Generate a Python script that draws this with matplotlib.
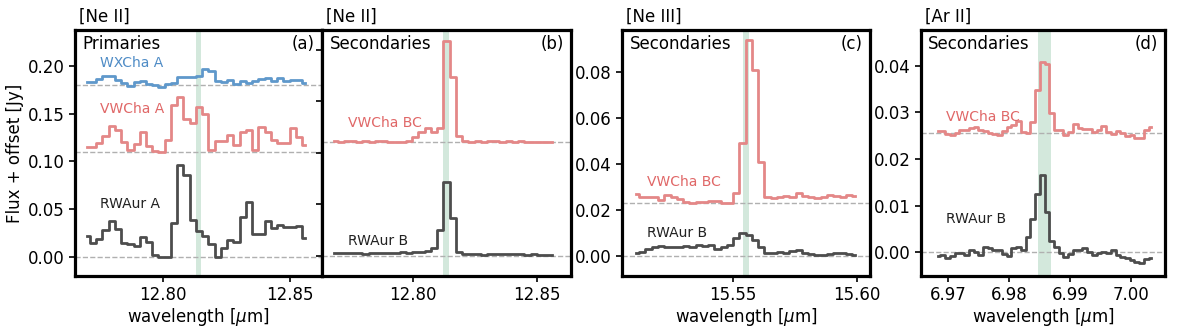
import numpy as np
import matplotlib
matplotlib.use("Agg")
import matplotlib.pyplot as plt

# ---- wavelength grids (um), evenly spaced detector bins ----
wl_a = np.linspace(12.7700, 12.8560, 36)
wl_b = np.linspace(12.7683, 12.8562, 36)
wl_c = np.linspace(15.5106, 15.5994, 36)
wl_d = np.linspace(6.9683, 7.0033, 46)

# ---- (a) [Ne II] primaries, flux + offset [Jy] ----
wxcha_a = [0.183, 0.183, 0.186, 0.189, 0.189, 0.185, 0.182, 0.179, 0.183, 0.184,
           0.181, 0.180, 0.178, 0.181, 0.182, 0.188, 0.188, 0.188, 0.190, 0.197,
           0.195, 0.184, 0.183, 0.185, 0.181, 0.184, 0.182, 0.184, 0.186, 0.187,
           0.184, 0.187, 0.184, 0.185, 0.185, 0.182]
vwcha_a = [0.115, 0.115, 0.119, 0.127, 0.137, 0.133, 0.120, 0.112, 0.118, 0.131,
           0.116, 0.111, 0.110, 0.122, 0.159, 0.168, 0.144, 0.140, 0.157, 0.150,
           0.112, 0.121, 0.121, 0.128, 0.117, 0.131, 0.133, 0.112, 0.136, 0.131,
           0.122, 0.119, 0.119, 0.135, 0.126, 0.117]
rwaur_a = [0.022, 0.015, 0.019, 0.028, 0.038, 0.029, 0.015, 0.014, 0.011, 0.021,
           0.016, 0.002, 0.000, 0.000, 0.035, 0.096, 0.086, 0.039, 0.027, 0.022,
           0.013, 0.000, 0.009, 0.018, 0.016, 0.042, 0.058, 0.024, 0.024, 0.038,
           0.030, 0.033, 0.031, 0.031, 0.032, 0.020]
off_a = [0.18, 0.11, 0.0]

# ---- (b) [Ne II] secondaries ----
vwcha_b = [0.0445, 0.0443, 0.0446, 0.0444, 0.0442, 0.0445, 0.0443, 0.0444, 0.0446, 0.0443,
           0.0442, 0.0441, 0.0444, 0.0460, 0.0479, 0.0496, 0.0479, 0.0496, 0.0835, 0.0693,
           0.0466, 0.0444, 0.0443, 0.0445, 0.0443, 0.0444, 0.0446, 0.0443, 0.0444, 0.0442,
           0.0444, 0.0443, 0.0442, 0.0443, 0.0441, 0.0442]
rwaur_b = [0.0010, 0.0011, 0.0010, 0.0009, 0.0011, 0.0008, 0.0009, 0.0012, 0.0010, 0.0011,
           0.0012, 0.0013, 0.0012, 0.0014, 0.0016, 0.0020, 0.0028, 0.0100, 0.0287, 0.0145,
           0.0016, 0.0006, 0.0007, 0.0005, 0.0004, 0.0006, 0.0005, 0.0007, 0.0006, 0.0007,
           0.0006, 0.0004, 0.0005, 0.0004, 0.0003, 0.0002]
off_b = [0.0443, 0.0]

# ---- (c) [Ne III] secondaries ----
vwcha_c = [0.0267, 0.0257, 0.0257, 0.0257, 0.0242, 0.0264, 0.0257, 0.0245, 0.0233, 0.0230,
           0.0233, 0.0233, 0.0236, 0.0236, 0.0230, 0.0228, 0.0274, 0.0491, 0.0938, 0.0807,
           0.0409, 0.0254, 0.0249, 0.0257, 0.0259, 0.0257, 0.0271, 0.0259, 0.0257, 0.0253,
           0.0254, 0.0264, 0.0259, 0.0257, 0.0264, 0.0259]
rwaur_c = [0.0014, 0.0017, 0.0028, 0.0036, 0.0042, 0.0039, 0.0036, 0.0036, 0.0042, 0.0036,
           0.0046, 0.0042, 0.0046, 0.0028, 0.0036, 0.0046, 0.0075, 0.0100, 0.0090, 0.0068,
           0.0036, 0.0010, 0.0013, 0.0017, 0.0013, 0.0022, 0.0025, 0.0013, 0.0007, 0.0003,
           0.0003, 0.0007, 0.0010, 0.0013, 0.0007, 0.0003]
off_c = [0.023, 0.0]

# ---- (d) [Ar II] secondaries ----
vwcha_d = [0.0261, 0.0261, 0.0254, 0.0251, 0.0255, 0.0262, 0.0262, 0.0266, 0.0268, 0.0262,
           0.0261, 0.0255, 0.0254, 0.0251, 0.0261, 0.0269, 0.0273, 0.0282, 0.0259, 0.0255,
           0.0280, 0.0348, 0.0409, 0.0404, 0.0299, 0.0262, 0.0263, 0.0251, 0.0259, 0.0276,
           0.0266, 0.0265, 0.0265, 0.0259, 0.0262, 0.0271, 0.0259, 0.0254, 0.0261, 0.0256,
           0.0249, 0.0251, 0.0246, 0.0246, 0.0263, 0.0269]
rwaur_d = [-0.0009, -0.0006, -0.0013, -0.0009, -0.0002, -0.0001, -0.0006, 0.0005, 0.0001, -0.0006,
           0.0011, 0.0009, 0.0005, 0.0004, -0.0004, -0.0009, 0.0009, 0.0011, 0.0005, 0.0032,
           0.0071, 0.0126, 0.0166, 0.0087, 0.0025, 0.0011, -0.0001, -0.0011, -0.0004, 0.0005,
           0.0004, 0.0009, 0.0001, -0.0006, -0.0001, 0.0001, -0.0002, 0.0004, -0.0006, -0.0011,
           -0.0013, -0.0016, -0.0022, -0.0024, -0.0015, -0.0013]
off_d = [0.0255, 0.0]

# green bands: line centre and half width (um)
band = {"a": (12.8140, 0.0011), "b": (12.8134, 0.0012),
        "c": (15.5551, 0.0013), "d": (6.98585, 0.00105)}

C_BLUE, C_RED, C_BLK = "#5f98cb", "#e48787", "#4d4d4d"
T_BLUE, T_RED, T_BLK = "#4f8cc6", "#e06767", "#222222"

plt.rcParams["font.family"] = ["DejaVu Sans"]
plt.rcParams["font.size"] = 12

fig = plt.figure(figsize=(11.77, 3.31), dpi=100)
W, H = 1177, 331
def box(l, r, t=30, b=276):
    return [l / W, 1 - b / H, (r - l) / W, (b - t) / H]

ax_a = fig.add_axes(box(75, 322))
ax_b = fig.add_axes(box(322, 571))
ax_c = fig.add_axes(box(622, 870))
ax_d = fig.add_axes(box(921, 1165))

def draw(ax, wl, series, offsets, colors, key):
    c, hw = band[key]
    ax.axvspan(c - hw, c + hw, color="#3a9a64", alpha=0.22, lw=0, zorder=0)
    for y, off, col in zip(series, offsets, colors):
        ax.axhline(off, color="#b0b0b0", ls="--", lw=1, zorder=1)
        ax.step(wl, y, where="mid", color=col, lw=2, zorder=2)
    for s in ax.spines.values():
        s.set_linewidth(2.3)
    ax.tick_params(direction="out", length=4, width=1.2, labelsize=12)

draw(ax_a, wl_a, [wxcha_a, vwcha_a, rwaur_a], off_a, [C_BLUE, C_RED, C_BLK], "a")
draw(ax_b, wl_b, [vwcha_b, rwaur_b], off_b, [C_RED, C_BLK], "b")
draw(ax_c, wl_c, [vwcha_c, rwaur_c], off_c, [C_RED, C_BLK], "c")
draw(ax_d, wl_d, [vwcha_d, rwaur_d], off_d, [C_RED, C_BLK], "d")

ax_a.set_xlim(12.7654, 12.8626)
ax_a.set_ylim(-0.020, 0.2377)
ax_a.set_xticks([12.80, 12.85])
ax_a.set_yticks([0.00, 0.05, 0.10, 0.15, 0.20])

ax_b.set_xlim(12.7633, 12.8637)
ax_b.set_ylim(-0.0079, 0.0877)
ax_b.set_xticks([12.80, 12.85])
ax_b.set_yticks([0.00, 0.02, 0.04, 0.06, 0.08])
ax_b.set_yticklabels([])

ax_c.set_xlim(15.5049, 15.6054)
ax_c.set_ylim(-0.0088, 0.0981)
ax_c.set_xticks([15.55, 15.60])
ax_c.set_yticks([0.00, 0.02, 0.04, 0.06, 0.08])

ax_d.set_xlim(6.9655, 7.0056)
ax_d.set_ylim(-0.0051, 0.0477)
ax_d.set_xticks([6.97, 6.98, 6.99, 7.00])
ax_d.set_yticks([0.00, 0.01, 0.02, 0.03, 0.04])

for ax in (ax_a, ax_c, ax_d):
    ax.set_xlabel(r"wavelength [$\mu$m]", fontsize=12, labelpad=1)
ax_a.set_ylabel("Flux + offset [Jy]", fontsize=12)
ax_a.yaxis.set_label_coords(-0.205, 0.5)

titles = ["[Ne II]", "[Ne II]", "[Ne III]", "[Ar II]"]
groups = ["Primaries", "Secondaries", "Secondaries", "Secondaries"]
tags = ["(a)", "(b)", "(c)", "(d)"]
for ax, t, g, tag in zip((ax_a, ax_b, ax_c, ax_d), titles, groups, tags):
    ax.annotate(t, xy=(0, 1), xycoords="axes fraction", xytext=(4, 4),
                textcoords="offset pixels", ha="left", va="bottom", fontsize=12)
    ax.text(0.03, 0.945, g, transform=ax.transAxes, fontsize=12, va="center", ha="left")
    ax.text(0.97, 0.945, tag, transform=ax.transAxes, fontsize=12, va="center", ha="right")

ax_a.text(0.101, 0.867, "WXCha A", transform=ax_a.transAxes, color=T_BLUE, fontsize=10, va="center")
ax_a.text(0.101, 0.678, "VWCha A", transform=ax_a.transAxes, color=T_RED, fontsize=10, va="center")
ax_a.text(0.101, 0.293, "RWAur A", transform=ax_a.transAxes, color=T_BLK, fontsize=10, va="center")
ax_b.text(0.103, 0.623, "VWCha BC", transform=ax_b.transAxes, color=T_RED, fontsize=10, va="center")
ax_b.text(0.103, 0.144, "RWAur B", transform=ax_b.transAxes, color=T_BLK, fontsize=10, va="center")
ax_c.text(0.102, 0.383, "VWCha BC", transform=ax_c.transAxes, color=T_RED, fontsize=10, va="center")
ax_c.text(0.102, 0.174, "RWAur B", transform=ax_c.transAxes, color=T_BLK, fontsize=10, va="center")
ax_d.text(0.102, 0.648, "VWCha BC", transform=ax_d.transAxes, color=T_RED, fontsize=10, va="center")
ax_d.text(0.102, 0.230, "RWAur B", transform=ax_d.transAxes, color=T_BLK, fontsize=10, va="center")

fig.savefig("out.png", dpi=100)
